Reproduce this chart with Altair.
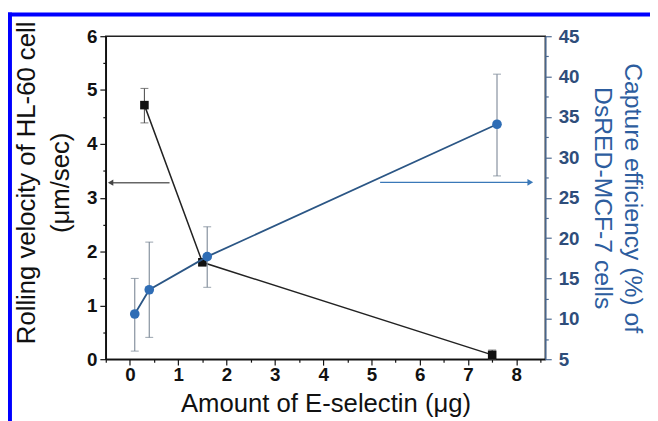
import altair as alt
import pandas as pd

# Rolling velocity of HL-60 cells (left axis)
vel_x = [0.3, 1.5, 7.5]
vel_y = [4.72, 1.80, 0.08]
vel_lo = [4.39, 1.74, 0.0]
vel_hi = [5.03, 1.86, 0.17]

# Capture efficiency of DsRED-MCF-7 cells (right axis)
cap_x = [0.1, 0.4, 1.6, 7.6]
cap_y = [10.6, 13.6, 17.7, 34.1]
cap_lo = [6.0, 7.7, 13.9, 27.7]
cap_hi = [15.0, 19.5, 21.4, 40.3]

# annotation arrows (data units)
larrow_x = [0.82, -0.4]
larrow_y = [3.28, 3.28]
rarrow_x = [5.18, 8.29]
rarrow_y = [26.9, 26.9]

x_ticks = [-0.5, 0, 0.5, 1, 1.5, 2, 2.5, 3, 3.5, 4, 4.5, 5, 5.5, 6, 6.5, 7, 7.5, 8, 8.5]
l_ticks = [0, 0.5, 1, 1.5, 2, 2.5, 3, 3.5, 4, 4.5, 5, 5.5, 6]
r_ticks = [5, 7.5, 10, 12.5, 15, 17.5, 20, 22.5, 25, 27.5, 30, 32.5, 35, 37.5, 40, 42.5, 45]

FONT = "Liberation Sans"
W, H = 445, 327
BLUE = "#2f6db5"
RAX = "#4d6a91"

vel = pd.DataFrame({"x": vel_x, "y": vel_y, "lo": vel_lo, "hi": vel_hi})
cap = pd.DataFrame({"x": cap_x, "y": cap_y, "lo": cap_lo, "hi": cap_hi})
la = pd.DataFrame({"x": larrow_x, "y": larrow_y})
ra = pd.DataFrame({"x": rarrow_x, "y": rarrow_y})

xscale = alt.Scale(domain=[-0.5, 8.6], nice=False, zero=False)
lscale = alt.Scale(domain=[0, 6], nice=False)
rscale = alt.Scale(domain=[5, 45], nice=False, zero=False)

xaxis = alt.Axis(
    values=x_ticks,
    labelExpr="datum.value % 1 === 0 ? format(datum.value, 'd') : ''",
    tickSize={"condition": {"test": "datum.value % 1 !== 0", "value": 3}, "value": 6},
    title="Amount of E-selectin (μg)",
    titleFontSize=26,
    titlePadding=6,
    labelPadding=1,
    grid=False,
    domainColor="#111", tickColor="#111", labelColor="#111", titleColor="#111",
)
laxis = alt.Axis(
    orient="left",
    values=l_ticks,
    labelExpr="datum.value % 1 === 0 ? format(datum.value, 'd') : ''",
    tickSize={"condition": {"test": "datum.value % 1 !== 0", "value": 3}, "value": 6},
    title=["Rolling velocity of HL-60 cell", "(μm/sec)"],
    titleFontSize=26,
    titlePadding=13,
    titleLineHeight=35,
    titleY=148,
    labelPadding=3,
    grid=False,
    domainColor="#111", tickColor="#111", labelColor="#111", titleColor="#111",
)
raxis = alt.Axis(
    orient="right",
    values=r_ticks,
    labelExpr="datum.value % 5 === 0 ? format(datum.value, 'd') : ''",
    tickSize={"condition": {"test": "datum.value % 5 !== 0", "value": 3}, "value": 6},
    title=["Capture efficiency (%) of", "DsRED-MCF-7 cells"],
    titleFontSize=25,
    titlePadding=11,
    titleLineHeight=30,
    labelPadding=7,
    grid=False,
    domainColor=RAX, tickColor=RAX, labelColor="#2e4d7a", titleColor="#2d5d9e",
)

X = alt.X("x:Q", scale=xscale, axis=xaxis)


def LY(f):
    return alt.Y(f, type="quantitative", scale=lscale, axis=laxis)


def RY(f):
    return alt.Y(f, type="quantitative", scale=rscale, axis=raxis)


# ---- left (velocity) group
bv = alt.Chart(vel)
v_err = bv.mark_rule(color="#555", strokeWidth=1.1).encode(x=X, y=LY("lo"), y2="hi:Q")
v_cap1 = bv.mark_tick(orient="horizontal", size=8, thickness=1.1, color="#555").encode(x=X, y=LY("lo"))
v_cap2 = bv.mark_tick(orient="horizontal", size=8, thickness=1.1, color="#555").encode(x=X, y=LY("hi"))
v_line = bv.mark_line(color="#222", strokeWidth=1.5).encode(x=X, y=LY("y"))
v_pts = bv.mark_square(size=75, color="#111", opacity=1).encode(x=X, y=LY("y"))
la_line = alt.Chart(la).mark_line(color="#666", strokeWidth=1.5).encode(x=X, y=LY("y"))
la_head = alt.Chart(la).transform_filter("datum.x < 0").mark_point(
    shape="triangle-left", filled=True, size=40, color="#444", opacity=1).encode(x=X, y=LY("y"))
left = alt.layer(v_line, v_err, v_cap1, v_cap2, v_pts, la_line, la_head)

# ---- right (capture) group
bc = alt.Chart(cap)
c_err = bc.mark_rule(color="#7b8796", strokeWidth=1.1).encode(x=X, y=RY("lo"), y2="hi:Q")
c_cap1 = bc.mark_tick(orient="horizontal", size=8, thickness=1.1, color="#7b8796").encode(x=X, y=RY("lo"))
c_cap2 = bc.mark_tick(orient="horizontal", size=8, thickness=1.1, color="#7b8796").encode(x=X, y=RY("hi"))
c_line = bc.mark_line(color="#2b5685", strokeWidth=1.8).encode(x=X, y=RY("y"))
c_pts = bc.mark_circle(size=95, color=BLUE, opacity=1).encode(x=X, y=RY("y"))
ra_line = alt.Chart(ra).mark_line(color="#3a78b8", strokeWidth=1.5).encode(x=X, y=RY("y"))
ra_head = alt.Chart(ra).transform_filter("datum.x > 8").mark_point(
    shape="triangle-right", filled=True, size=45, color="#3a78b8", opacity=1).encode(x=X, y=RY("y"))
right = alt.layer(c_line, c_err, c_cap1, c_cap2, c_pts, ra_line, ra_head)

# ---- blue figure frame (decoration)
deco = pd.DataFrame({"k": [0]})
top_border = alt.Chart(deco).mark_rule(color="#0000ff", strokeWidth=4, clip=False).encode(
    x=alt.value(-99), x2=alt.value(560), y=alt.value(-22))
left_border = alt.Chart(deco).mark_rule(color="#0000ff", strokeWidth=4, clip=False).encode(
    x=alt.value(-97), y=alt.value(-24), y2=alt.value(395))

chart = alt.layer(left, right, top_border, left_border).resolve_scale(
    y="independent"
).properties(
    width=W, height=H,
    autosize=alt.AutoSizeParams(type="none"),
    padding={"left": 99, "top": 26, "right": 106, "bottom": 60},
    background="white",
).configure_view(
    stroke="#222", strokeWidth=1.5
).configure_axis(
    labelFont=FONT, titleFont=FONT,
    labelFontSize=19, labelFontWeight="bold",
    titleFontWeight="normal",
    domainWidth=1.5, tickWidth=1.2,
)

chart.save("out.html", embed_options={"renderer": "svg", "actions": False})
